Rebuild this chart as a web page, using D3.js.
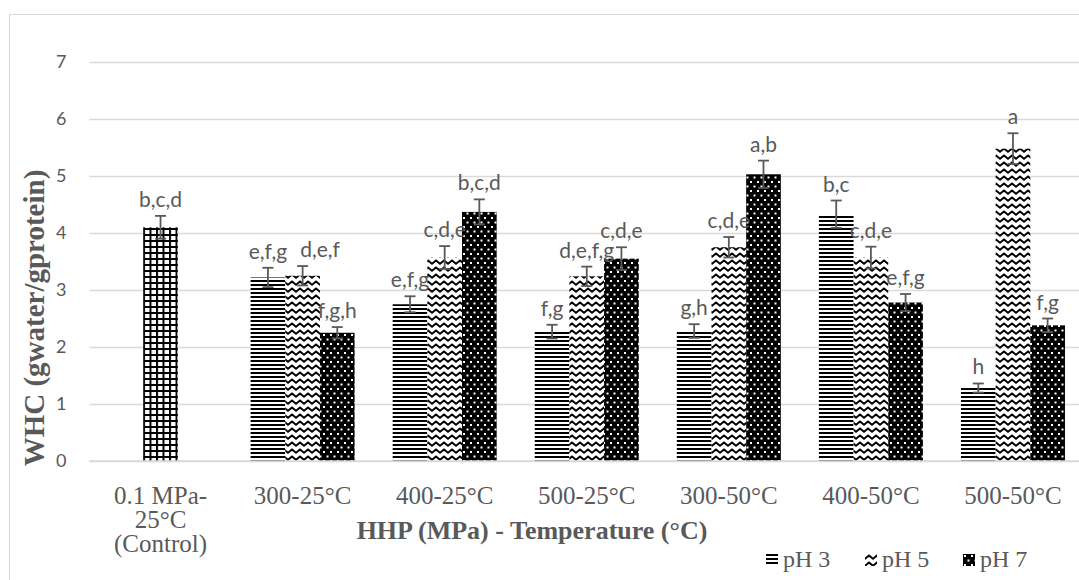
<!DOCTYPE html>
<html>
<head>
<meta charset="utf-8">
<script src="https://cdn.jsdelivr.net/npm/d3@7"></script>
<style>
  body { margin: 0; background: #fff; overflow: hidden; }
  svg { display: block; }
</style>
</head>
<body>
<svg id="chart" width="1079" height="580"></svg>
<script>
// values
var categories = [["0.1 MPa-", "25°C", "(Control)"], ["300-25°C"], ["400-25°C"], ["500-25°C"], ["300-50°C"], ["400-50°C"], ["500-50°C"]];
var seriesNames = ["pH 3", "pH 5", "pH 7"];
var ph3 = [null, 3.22, 2.75, 2.27, 2.28, 4.33, 1.28];
var ph5 = [4.10, 3.25, 3.57, 3.24, 3.75, 3.57, 5.48];
var ph7 = [null, 2.25, 4.37, 3.55, 5.03, 2.78, 2.38];
var err3 = [null, 0.17, 0.14, 0.12, 0.12, 0.24, 0.08];
var err5 = [0.20, 0.17, 0.20, 0.17, 0.18, 0.19, 0.27];
var err7 = [null, 0.10, 0.22, 0.20, 0.24, 0.15, 0.12];
var let3 = [null, "e,f,g", "e,f,g", "f,g", "g,h", "b,c", "h"];
var let5 = ["b,c,d", "d,e,f", "c,d,e", "d,e,f,g", "c,d,e", "c,d,e", "a"];
var let7 = [null, "f,g,h", "b,c,d", "c,d,e", "a,b", "e,f,g", "f,g"];
var yTicks = [0, 1, 2, 3, 4, 5, 6, 7];

var grey = "#595959";
var serif = "'Liberation Serif', 'Times New Roman', serif";
var sans = "Lato, 'Open Sans', sans-serif";
var svg = d3.select("#chart");

// the plot runs past the right edge of the picture (the original was cropped)
var plotL = 89.5, plotR = 1084, plotT = 62, plotB = 461;

// chart frame (only top/left edges visible in the crop)
svg.append("rect")
    .attr("x", 9.5).attr("y", 14.5)
    .attr("width", 1100).attr("height", 600)
    .attr("fill", "none")
    .attr("stroke", "#d9d9d9");

// patterns
var defs = svg.append("defs");

var p = defs.append("pattern").attr("id", "hstripe")
    .attr("patternUnits", "userSpaceOnUse").attr("width", 4).attr("height", 4);
p.append("rect").attr("width", 4).attr("height", 4).attr("fill", "#fff");
p.append("rect").attr("width", 4).attr("height", 2).attr("fill", "#000");

p = defs.append("pattern").attr("id", "zigzag")
    .attr("patternUnits", "userSpaceOnUse").attr("width", 8).attr("height", 7);
p.append("rect").attr("width", 8).attr("height", 7).attr("fill", "#fff");
p.append("path").attr("d", "M-1,5.5 L4,1.5 L9,5.5").attr("fill", "none")
    .attr("stroke", "#000").attr("stroke-width", 2);

p = defs.append("pattern").attr("id", "dots")
    .attr("patternUnits", "userSpaceOnUse").attr("width", 7).attr("height", 9);
p.append("rect").attr("width", 7).attr("height", 9).attr("fill", "#000");
p.append("rect").attr("x", 1).attr("y", 1).attr("width", 2).attr("height", 2).attr("fill", "#fff");
p.append("rect").attr("x", 4.5).attr("y", 5.5).attr("width", 2).attr("height", 2).attr("fill", "#fff");

p = defs.append("pattern").attr("id", "grid")
    .attr("patternUnits", "userSpaceOnUse").attr("width", 6.5).attr("height", 6);
p.append("rect").attr("width", 6.5).attr("height", 6).attr("fill", "#fff");
p.append("rect").attr("x", 0).attr("width", 2).attr("height", 6).attr("fill", "#000");
p.append("rect").attr("y", 0).attr("width", 6.5).attr("height", 2).attr("fill", "#000");

var fills = ["url(#hstripe)", "url(#zigzag)", "url(#dots)"];

// scales
var x = d3.scaleBand().domain(d3.range(categories.length)).range([plotL, plotR]).padding(0);
var bw = x.bandwidth();
var xs = d3.scaleBand().domain(seriesNames).range([bw / 2 - 52, bw / 2 + 52]).padding(0);
var y = d3.scaleLinear().domain([0, 7]).range([plotB, plotT]);

// gridlines
svg.append("g")
    .attr("transform", "translate(" + plotL + ",0)")
    .call(d3.axisLeft(y).tickValues(yTicks).tickSize(-(plotR - plotL)).tickFormat(""))
    .call(function (g) { g.select(".domain").remove(); })
    .selectAll("line").attr("stroke", "#d9d9d9").attr("stroke-width", 1.3);

// y tick labels
svg.append("g")
    .attr("transform", "translate(" + plotL + ",0)")
    .call(d3.axisLeft(y).tickValues(yTicks).tickSize(0).tickPadding(23).tickFormat(d3.format("d")))
    .call(function (g) { g.select(".domain").remove(); })
    .selectAll("text")
    .attr("fill", grey)
    .style("font-family", sans)
    .style("font-size", "18px");

// bars
var rows = [];
var vals = [ph3, ph5, ph7], errs = [err3, err5, err7], lets = [let3, let5, let7];
categories.forEach(function (c, i) {
    seriesNames.forEach(function (s, k) {
        if (vals[k][i] == null) return;
        rows.push({ cat: i, series: s, k: k, value: vals[k][i], err: errs[k][i], letter: lets[k][i] });
    });
});

svg.append("g").selectAll("rect")
    .data(rows)
    .enter().append("rect")
    .attr("x", function (d) { return x(d.cat) + xs(d.series); })
    .attr("y", function (d) { return y(d.value); })
    .attr("width", xs.bandwidth())
    .attr("height", function (d) { return y(0) - y(d.value); })
    .attr("fill", function (d) { return d.cat === 0 ? "url(#grid)" : fills[d.k]; });

// error bars
var eb = svg.append("g").attr("stroke", grey).attr("stroke-width", 1.8);
rows.forEach(function (d) {
    var cx = x(d.cat) + xs(d.series) + xs.bandwidth() / 2;
    eb.append("line").attr("x1", cx).attr("x2", cx)
        .attr("y1", y(d.value - d.err)).attr("y2", y(d.value + d.err));
    eb.append("line").attr("x1", cx - 5.5).attr("x2", cx + 5.5)
        .attr("y1", y(d.value + d.err)).attr("y2", y(d.value + d.err));
    eb.append("line").attr("x1", cx - 5.5).attr("x2", cx + 5.5)
        .attr("y1", y(d.value - d.err)).attr("y2", y(d.value - d.err));
});

// significance letters
var labels = svg.append("g").selectAll("text")
    .data(rows)
    .enter().append("text")
    .attr("x", function (d) { return x(d.cat) + xs(d.series) + xs.bandwidth() / 2; })
    .attr("y", function (d) { return y(d.value + d.err) - 9; })
    .attr("text-anchor", "middle")
    .attr("fill", grey)
    .style("font-family", sans)
    .style("font-size", "21px")
    .text(function (d) { return d.letter; });

// push a label right when it collides with its left neighbour (as Excel does)
var placed = [];
labels.each(function (d) {
    var el = d3.select(this);
    var w = this.getComputedTextLength();
    var cx = +el.attr("x"), base = +el.attr("y");
    var box = { l: cx - w / 2, r: cx + w / 2, t: base - 14, b: base + 2, cat: d.cat };
    placed.forEach(function (o) {
        if (o.cat !== box.cat) return;
        if (box.l < o.r && box.r > o.l && box.t < o.b && box.b > o.t) {
            var shift = o.r + 13 - box.l;
            box.l += shift; box.r += shift; cx += shift;
        }
    });
    el.attr("x", cx);
    placed.push(box);
});

// x axis line
svg.append("line")
    .attr("x1", plotL).attr("x2", plotR)
    .attr("y1", y(0)).attr("y2", y(0))
    .attr("stroke", "#d9d9d9").attr("stroke-width", 1.3);

// category labels
var catG = svg.append("g");
categories.forEach(function (lines, i) {
    var t = catG.append("text")
        .attr("x", x(i) + bw / 2)
        .attr("y", 504)
        .attr("text-anchor", "middle")
        .attr("fill", grey)
        .style("font-family", serif)
        .style("font-size", "25px");
    lines.forEach(function (ln, j) {
        t.append("tspan").attr("x", x(i) + bw / 2).attr("dy", j === 0 ? 0 : 24).text(ln);
    });
});

// axis titles
svg.append("text")
    .attr("x", 532).attr("y", 539)
    .attr("text-anchor", "middle")
    .attr("fill", grey)
    .style("font-family", serif)
    .style("font-weight", "bold")
    .style("font-size", "26px")
    .text("HHP (MPa) - Temperature (°C)");

svg.append("text")
    .attr("transform", "translate(44,318) rotate(-90)")
    .attr("text-anchor", "middle")
    .attr("fill", grey)
    .style("font-family", serif)
    .style("font-weight", "bold")
    .style("font-size", "29px")
    .text("WHC (gwater/gprotein)");

// legend
var legX = [766, 865, 963];
var leg = svg.append("g").selectAll("g")
    .data(seriesNames)
    .enter().append("g")
    .attr("transform", function (d, i) { return "translate(" + legX[i] + ",554)"; });
leg.append("rect")
    .attr("width", 12).attr("height", 12)
    .attr("fill", function (d, i) { return fills[i]; });
leg.append("text")
    .attr("x", 17).attr("y", 13)
    .attr("fill", grey)
    .style("font-family", serif)
    .style("font-size", "24px")
    .text(function (d) { return d; });
</script>
</body>
</html>
